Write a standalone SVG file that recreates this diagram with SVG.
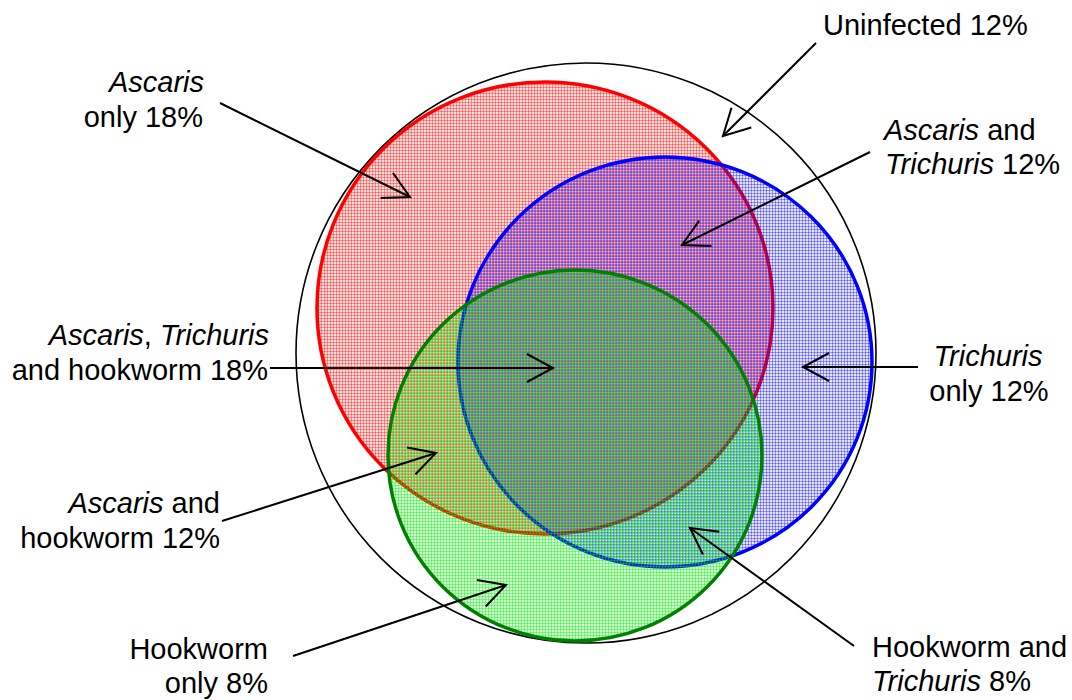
<svg xmlns="http://www.w3.org/2000/svg" width="1072" height="700" viewBox="0 0 1072 700">
<style>
text{font-family:"Liberation Sans",Arial,sans-serif;font-size:29px;fill:#000}
.i{font-style:italic}
.conn line{stroke:#000;stroke-width:2;marker-end:url(#ah)}
</style>
<defs>
<marker id="ah" viewBox="-30 -16 33 32" markerWidth="33" markerHeight="32" refX="0" refY="0" orient="auto" markerUnits="userSpaceOnUse">
<path d="M-26,-14 L0,0 L-26,14" fill="none" stroke="#000" stroke-width="2"/>
</marker>
<pattern id="pr" width="3" height="3" patternUnits="userSpaceOnUse"><rect width="3" height="3" fill="#ff0000" fill-opacity="0.13"/><path d="M0 0.5H3M0.5 0V3" stroke="#ff0000" stroke-opacity="0.38" stroke-width="1"/></pattern>
<pattern id="pb" width="3" height="3" patternUnits="userSpaceOnUse"><rect width="3" height="3" fill="#0000ff" fill-opacity="0.1"/><path d="M0 1.5H3M1.5 0V3" stroke="#0000ff" stroke-opacity="0.36" stroke-width="1"/></pattern>
<pattern id="pg" width="3" height="3" patternUnits="userSpaceOnUse"><rect width="3" height="3" fill="#00ff00" fill-opacity="0.16"/><path d="M0 2.5H3M2.5 0V3" stroke="#00ee00" stroke-opacity="0.4" stroke-width="1"/></pattern>
</defs>
<rect width="1072" height="700" fill="#fff"/>
<g id="population"><circle cx="586" cy="353" r="290" fill="none" stroke="#000" stroke-width="1.6"/></g>
<g id="ascaris"><ellipse cx="545" cy="308" rx="228" ry="226" fill="url(#pr)" stroke="#ff0000" stroke-width="3.5"/></g>
<g id="trichuris"><ellipse cx="665" cy="362" rx="207" ry="205" fill="url(#pb)" stroke="#0000ff" stroke-width="3.5"/></g>
<g id="hookworm"><ellipse cx="575" cy="455.5" rx="187" ry="185.5" fill="url(#pg)" stroke="#008000" stroke-width="3.5"/></g>
<g id="connectors" class="conn">
<line x1="220" y1="103" x2="410" y2="197"/>
<line x1="816" y1="43" x2="723" y2="136"/>
<line x1="870" y1="152" x2="682" y2="245"/>
<line x1="270" y1="368" x2="553" y2="368"/>
<line x1="918" y1="367" x2="803" y2="367"/>
<line x1="222" y1="521" x2="436" y2="453"/>
<line x1="293" y1="656" x2="506" y2="585"/>
<line x1="854" y1="646" x2="690" y2="528"/>
</g>
<g id="label-uninfected"><text x="823" y="35">Uninfected 12%</text></g>
<g id="label-ascaris-only" text-anchor="end"><text x="204" y="92" class="i">Ascaris</text><text x="203" y="127">only 18%</text></g>
<g id="label-ascaris-trichuris"><text x="884" y="140"><tspan class="i">Ascaris</tspan> and</text><text x="885" y="174"><tspan class="i">Trichuris</tspan> 12%</text></g>
<g id="label-all-three" text-anchor="end"><text x="269" y="345"><tspan class="i">Ascaris</tspan>, <tspan class="i">Trichuris</tspan></text><text x="268" y="380">and hookworm 18%</text></g>
<g id="label-trichuris-only" text-anchor="middle"><text x="988" y="366" class="i">Trichuris</text><text x="989" y="401">only 12%</text></g>
<g id="label-ascaris-hookworm" text-anchor="end"><text x="220" y="513"><tspan class="i">Ascaris</tspan> and</text><text x="220" y="548">hookworm 12%</text></g>
<g id="label-hookworm-only" text-anchor="end"><text x="268" y="659">Hookworm</text><text x="268" y="693">only 8%</text></g>
<g id="label-hookworm-trichuris"><text x="872" y="657">Hookworm and</text><text x="872" y="691"><tspan class="i">Trichuris</tspan> 8%</text></g>
</svg>
